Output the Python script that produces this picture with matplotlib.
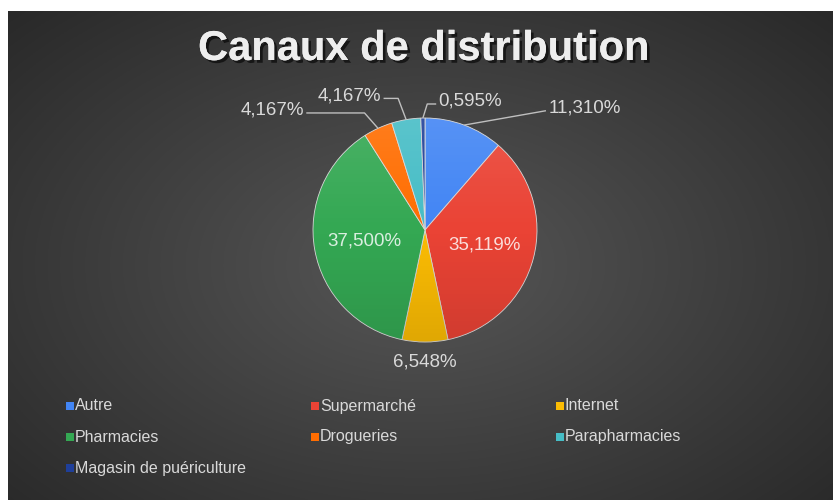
import numpy as np
import matplotlib
matplotlib.use('Agg')
import matplotlib.pyplot as plt
from matplotlib.patches import Rectangle, Circle
import matplotlib.patheffects as pe

# ---------------- data ----------------
categories = ['Autre', 'Supermarché', 'Internet', 'Pharmacies', 'Drogueries',
              'Parapharmacies', 'Magasin de puériculture']
values = [11.310, 35.119, 6.548, 37.500, 4.167, 4.167, 0.595]
colors = ['#4285F4', '#EA4335', '#FBBC04', '#34A853', '#FF6D01', '#46BDC6', '#1F3F9A']
title = 'Canaux de distribution'

# label placement (in pie-radius units): mode, text x, text y, elbow x, align
label_layout = [
    ('out', 1.10, 1.09, 1.08, 'left'),
    ('in', 0.55, None, None, 'center'),
    ('below', 1.18, None, None, 'center'),
    ('in', 0.55, None, None, 'center'),
    ('out', -1.08, 1.07, -0.54, 'right'),
    ('out', -0.39, 1.20, -0.24, 'right'),
    ('out', 0.12, 1.15, 0.02, 'left'),
]

W, H = 833, 500
FONT = ['Liberation Sans', 'DejaVu Sans']
fig = plt.figure(figsize=(W / 100, H / 100), dpi=100, facecolor='white')

# ---------------- background gradient ----------------
bg = fig.add_axes([8 / W, 0, 1 - 8 / W, 1 - 11 / H])
bg.set_axis_off()
ny, nx = 300, 500
yy, xx = np.mgrid[0:1:ny * 1j, 0:1:nx * 1j]
d = np.sqrt(((xx - 0.5) / 0.7) ** 2 + ((yy - 0.52) / 0.75) ** 2)
lum = np.clip(0.34 - 0.18 * d, 0.15, 0.4)
img = np.dstack([lum, lum, lum])
bg.imshow(img, extent=[0, 1, 0, 1], aspect='auto', origin='upper')
bg.set_xlim(0, 1)
bg.set_ylim(0, 1)

# ---------------- pie ----------------
R = 112.0
cx, cy = 425.0, 230.0
hw, hh = 300.0, 200.0
ax = fig.add_axes([(cx - hw) / W, (H - cy - hh) / H, 2 * hw / W, 2 * hh / H])
ax.patch.set_alpha(0)
wedges, _ = ax.pie(values, colors=colors, startangle=90, counterclock=False,
                   radius=1, center=(0, 0),
                   wedgeprops=dict(edgecolor='#d8d8d8', linewidth=0.6))
ax.set_xlim(-hw / R, hw / R)
ax.set_ylim(-hh / R, hh / R)
ax.set_aspect('equal')
ax.set_axis_off()

# subtle shading on the pie
gy = np.linspace(1, 0, 200)[:, None]
shade = np.zeros((200, 2, 4))
shade[..., :3] = np.where(gy[..., None] > 0.5, 1.0, 0.0)
shade[..., 3] = np.abs(gy - 0.5) * 0.22
im = ax.imshow(shade, extent=[-1, 1, -1, 1], aspect='auto', zorder=3,
               interpolation='bilinear')
clip = Circle((0, 0), 1, transform=ax.transData)
im.set_clip_path(clip)

# ---------------- data labels ----------------
total = sum(values)
cum = 0.0
for v, lay in zip(values, label_layout):
    mid = cum + v / 2.0
    cum += v
    ang = np.deg2rad(90 - mid / total * 360.0)
    ex, ey = np.cos(ang), np.sin(ang)
    txt = f"{v:.3f}%".replace('.', ',')
    mode = lay[0]
    if mode == 'in':
        r = lay[1]
        ax.text(r * ex, r * ey, txt, ha='center', va='center', fontsize=13.5,
                color='white', alpha=0.82, family=FONT, zorder=5)
    elif mode == 'below':
        r = lay[1]
        ax.text(r * ex, r * ey, txt, ha='center', va='center', fontsize=13.5,
                color='#d9d9d9', family=FONT, zorder=5)
    else:
        _, tx, ty, elx, ha = lay
        side = 1 if ha == 'left' else -1
        ly = ty - 0.025
        ax.plot([ex, elx, tx - side * 0.02], [ey, ly, ly], color='#bfbfbf',
                lw=1.0, zorder=4, solid_capstyle='butt')
        ax.text(tx, ty, txt, ha=ha, va='center', fontsize=13.5,
                color='#d9d9d9', family=FONT, zorder=5)

# ---------------- title ----------------
fig.text(424 / W, 1 - 49 / H, title, ha='center', va='center', fontsize=30,
         fontweight='bold', color='#eeeeee', family=FONT,
         path_effects=[pe.withSimplePatchShadow(offset=(2, -2), shadow_rgbFace='black', alpha=0.6),
                       pe.Normal()])

# ---------------- legend ----------------
for i, (cat, col) in enumerate(zip(categories, colors)):
    row, c = divmod(i, 3)
    mx = 66 + c * 245
    my = 406 + row * 31
    fig.patches.append(Rectangle((mx / W, 1 - (my + 4) / H), 8 / W, 8 / H,
                                 transform=fig.transFigure, facecolor=col,
                                 edgecolor='none'))
    fig.text((mx + 9) / W, 1 - my / H, cat, ha='left', va='center',
             fontsize=11.5, color='#d9d9d9', family=FONT)

fig.savefig('out.png', dpi=100, facecolor=fig.get_facecolor())
